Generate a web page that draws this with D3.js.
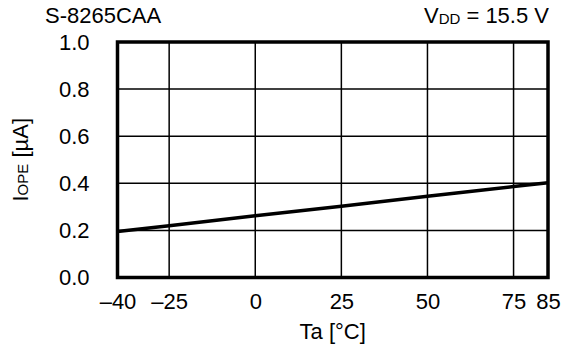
<!DOCTYPE html>
<html><head><meta charset="utf-8">
<script src="https://cdn.jsdelivr.net/npm/d3@7"></script>
<style>body{margin:0;background:#fff}svg{display:block}text{font-family:"Liberation Sans",Arial,sans-serif;fill:#000}</style>
</head><body>
<script>
const temps = [-40, -25, 0, 25, 50, 75, 85];
const iope = [0.195, 0.220, 0.262, 0.303, 0.345, 0.386, 0.402];
const xTicks = [-40, -25, 0, 25, 50, 75, 85];
const yTicks = [0.0, 0.2, 0.4, 0.6, 0.8, 1.0];

const W = 565, H = 358, FS = 22;
const m = {left: 117.5, right: 17, top: 42, bottom: 80.5};
const svg = d3.select("body").append("svg").attr("width", W).attr("height", H);
const x = d3.scaleLinear().domain([-40, 85]).range([m.left, W - m.right]);
const y = d3.scaleLinear().domain([0, 1]).range([H - m.bottom, m.top]);

// grid
svg.append("g").selectAll("line").data(xTicks.slice(1, -1)).join("line")
  .attr("x1", d => x(d)).attr("x2", d => x(d)).attr("y1", y(0)).attr("y2", y(1))
  .attr("stroke", "#000").attr("stroke-width", 1.5);
svg.append("g").selectAll("line").data(yTicks.slice(1, -1)).join("line")
  .attr("y1", d => y(d)).attr("y2", d => y(d)).attr("x1", x(-40)).attr("x2", x(85))
  .attr("stroke", "#000").attr("stroke-width", 1.5);

// data line
svg.append("path").datum(temps.map((t, i) => [t, iope[i]]))
  .attr("d", d3.line().x(d => x(d[0])).y(d => y(d[1])))
  .attr("fill", "none").attr("stroke", "#000").attr("stroke-width", 3.5);

// frame
svg.append("rect").attr("x", x(-40)).attr("y", y(1)).attr("width", x(85) - x(-40)).attr("height", y(0) - y(1))
  .attr("fill", "none").attr("stroke", "#000").attr("stroke-width", 3.5);

// axes labels
const xa = svg.append("g").attr("transform", `translate(0,${y(0)})`)
  .call(d3.axisBottom(x).tickValues(xTicks).tickSize(0).tickPadding(16)
    .tickFormat(d => d < 0 ? "\u2013" + Math.abs(d) : String(d)));
xa.select(".domain").remove();
xa.selectAll("text").attr("font-size", FS).attr("font-family", "Liberation Sans, Arial, sans-serif");

const ya = svg.append("g").attr("transform", `translate(${x(-40)},0)`)
  .call(d3.axisLeft(y).tickValues(yTicks).tickSize(0).tickPadding(28).tickFormat(d3.format(".1f")));
ya.select(".domain").remove();
ya.selectAll("text").attr("font-size", FS).attr("font-family", "Liberation Sans, Arial, sans-serif");

svg.append("text").attr("x", 45).attr("y", 23).attr("font-size", FS).text("S-8265CAA");
const vt = svg.append("text").attr("x", 549).attr("y", 23).attr("font-size", FS).attr("text-anchor", "end");
vt.append("tspan").text("V");
vt.append("tspan").attr("font-size", 15).attr("dy", 1).text("DD");
vt.append("tspan").attr("dy", -1).text(" = 15.5 V");

svg.append("text").attr("x", (x(-40) + x(85)) / 2).attr("y", 339).attr("font-size", FS)
  .attr("text-anchor", "middle").text("Ta [\u00B0C]");

const yl = svg.append("text").attr("transform", `translate(28,${(y(0) + y(1)) / 2}) rotate(-90)`)
  .attr("font-size", FS).attr("text-anchor", "middle");
yl.append("tspan").text("I");
yl.append("tspan").attr("font-size", 15).text("OPE");
yl.append("tspan").text(" [\u00B5A]");
</script>
</body></html>
